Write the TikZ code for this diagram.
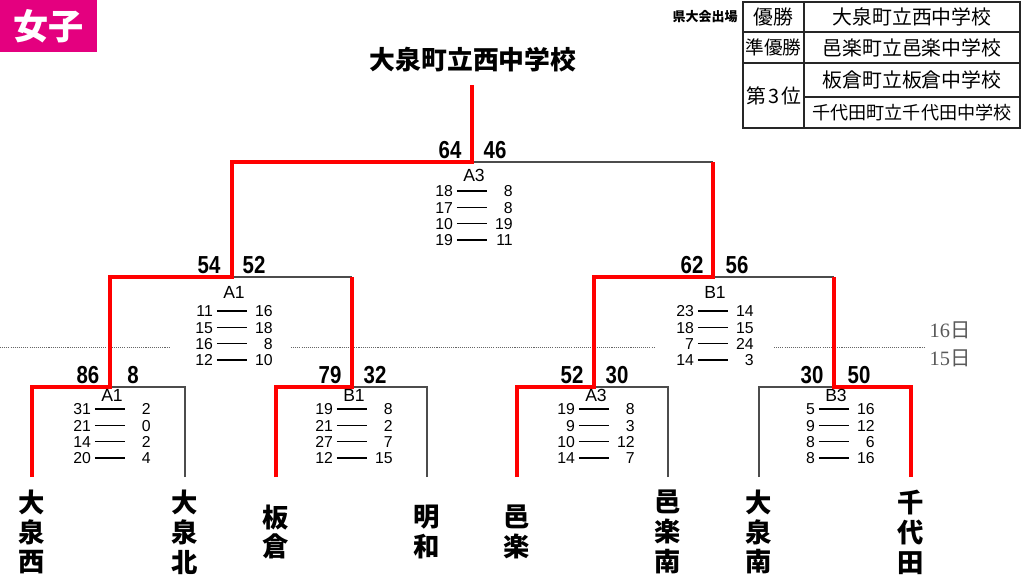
\documentclass[tikz,border=0pt]{standalone}
\usepackage{fontspec}
\usepackage{array}
\setmainfont{Liberation Sans}
\newfontfamily\cjk{Noto Sans CJK JP}
\newfontfamily\scorefont{Liberation Sans}[FakeStretch=0.83]
\newfontfamily\dayfont{Liberation Serif}
\usetikzlibrary{calc}
\definecolor{girlpink}{HTML}{E4007F}
\newcolumntype{R}{>{\raggedleft\arraybackslash}p{10pt}}
\newcommand\gamedash{\rule[0.33em]{17pt}{0.65pt}}
\newcommand\gamerows[1]{\begin{tabular}{@{}R@{\hspace{2.3pt}}c@{\hspace{4.8pt}}R@{}}#1\end{tabular}}

\begin{document}
\begin{tikzpicture}[x=0.02cm,y=-0.02cm]
		\tikzset{win/.style = {draw=red, line width=1.8pt}}
		\tikzset{lose/.style = {draw=black!70, line width=0.6pt}}
		\tikzset{daysep/.style = {draw=black!60, line width=0.5pt, dash pattern=on 0.6pt off 0.6pt}}
		\tikzset{cellline/.style = {draw=black!85, line width=0.6pt}}
		\tikzset{score/.style = {font=\scorefont\bfseries\fontsize{14}{14}\selectfont, inner sep=0pt}}
		\tikzset{pool/.style = {font=\fontsize{10}{10}\selectfont, inner sep=0pt}}
		\tikzset{games/.style = {font=\fontsize{9}{9.3}\selectfont, inner sep=0pt}}
		\tikzset{team/.style = {font=\cjk\bfseries\fontsize{15}{17}\selectfont, align=center, inner sep=0pt}}
		\tikzset{cell/.style = {font=\cjk\fontsize{11.3}{12}\selectfont, inner sep=0pt}}
		\tikzset{day/.style = {text=black!65, font=\fontsize{11.6}{12}\selectfont, inner sep=0pt}}

		\useasboundingbox (0,0) rectangle (1024,583);

		\node[fill=girlpink, text=white, font=\cjk\bfseries\fontsize{20}{20}\selectfont, minimum width=1.94cm, minimum height=1.04cm, anchor=north west, inner sep=0pt] (girls) at (0,0) {女子};
		\node[font=\cjk\bfseries\fontsize{14.7}{15}\selectfont, inner sep=0pt] (champ) at (473,60) {大泉町立西中学校};

		\coordinate (w) at (472,85);
		\coordinate (fn) at (472,162);
		\coordinate (s1) at (232,277);
		\coordinate (s2) at (713,277);
		\coordinate (q1) at (110,387);
		\coordinate (q2) at (352,387);
		\coordinate (q3) at (594,387);
		\coordinate (q4) at (834,387);
		\coordinate (f1) at (32,477);
		\coordinate (f2) at (185,477);
		\coordinate (f3) at (276,477);
		\coordinate (f4) at (427,477);
		\coordinate (f5) at (517,477);
		\coordinate (f6) at (668,477);
		\coordinate (f7) at (759,477);
		\coordinate (f8) at (911,477);

		\node[team] (t1) at (32,532) {大\\泉\\西};
		\node[team] (t2) at (185,532) {大\\泉\\北};
		\node[team] (t3) at (276,532) {板\\倉};
		\node[team] (t4) at (427,532) {明\\和};
		\node[team] (t5) at (517,532) {邑\\楽};
		\node[team] (t6) at (668,532) {邑\\楽\\南};
		\node[team] (t7) at (759,532) {大\\泉\\南};
		\node[team] (t8) at (911,532) {千\\代\\田};

		\draw[daysep] (0,347) -- (170,347);
		\draw[daysep] (291,347) -- (654,347);
		\draw[daysep] (774,347) -- (925,347);
		\node[day] (d16) at (950,330) {\dayfont 16\cjk 日};
		\node[day] (d15) at (950,358) {\dayfont 15\cjk 日};

		\draw[lose] (f2) |- (q1);
		\draw[lose] (f4) |- (q2);
		\draw[lose] (q2 |- s1) -- (s1);
		\draw[lose] (f6) |- (q3);
		\draw[lose] (f7) |- (q4);
		\draw[lose] (q4 |- s2) -- (s2);
		\draw[lose] (s2 |- fn) -- (fn);

		\draw[win] (f1) |- (q1) |- (s1) |- (fn) -- (w);
		\draw[win] (f3) |- (q2) -- (q2 |- s1);
		\draw[win] (f5) |- (q3) |- (s2) -- (s2 |- fn);
		\draw[win] (f8) |- (q4) -- (q4 |- s2);

		\node[score] (fnL) at ($(fn)+(-22,-12)$) {64};
		\node[score] (fnR) at ($(fn)+(23,-12)$) {46};
		\node[score] (s1L) at ($(s1)+(-23,-12)$) {54};
		\node[score] (s1R) at ($(s1)+(22,-12)$) {52};
		\node[score] (s2L) at ($(s2)+(-21,-12)$) {62};
		\node[score] (s2R) at ($(s2)+(24,-12)$) {56};
		\node[score] (q1L) at ($(q1)+(-22,-12)$) {86};
		\node[score] (q1R) at ($(q1)+(23,-12)$) {8};
		\node[score] (q2L) at ($(q2)+(-22,-12)$) {79};
		\node[score] (q2R) at ($(q2)+(23,-12)$) {32};
		\node[score] (q3L) at ($(q3)+(-22,-12)$) {52};
		\node[score] (q3R) at ($(q3)+(23,-12)$) {30};
		\node[score] (q4L) at ($(q4)+(-22,-12)$) {30};
		\node[score] (q4R) at ($(q4)+(25,-12)$) {50};

		\node[pool] (fnP) at (474,175) {A3};
		\node[games] (fnG) at (474,218) {\gamerows{18&\gamedash&8\\17&\gamedash&8\\10&\gamedash&19\\19&\gamedash&11}};
		\node[pool] (s1P) at (234,292) {A1};
		\node[games] (s1G) at (234,338) {\gamerows{11&\gamedash&16\\15&\gamedash&18\\16&\gamedash&8\\12&\gamedash&10}};
		\node[pool] (s2P) at (715,292) {B1};
		\node[games] (s2G) at (715,338) {\gamerows{23&\gamedash&14\\18&\gamedash&15\\7&\gamedash&24\\14&\gamedash&3}};
		\node[pool] (q1P) at (112,395) {A1};
		\node[games] (q1G) at (112,436) {\gamerows{31&\gamedash&2\\21&\gamedash&0\\14&\gamedash&2\\20&\gamedash&4}};
		\node[pool] (q2P) at (354,395) {B1};
		\node[games] (q2G) at (354,436) {\gamerows{19&\gamedash&8\\21&\gamedash&2\\27&\gamedash&7\\12&\gamedash&15}};
		\node[pool] (q3P) at (596,395) {A3};
		\node[games] (q3G) at (596,436) {\gamerows{19&\gamedash&8\\9&\gamedash&3\\10&\gamedash&12\\14&\gamedash&7}};
		\node[pool] (q4P) at (836,395) {B3};
		\node[games] (q4G) at (836,436) {\gamerows{5&\gamedash&16\\9&\gamedash&12\\8&\gamedash&6\\8&\gamedash&16}};

		% result table
		\node[font=\cjk\bfseries\fontsize{7.4}{8}\selectfont, inner sep=0pt] (kentai) at (705,17) {県大会出場};
		\draw[cellline] (743,2) rectangle (1020,128);
		\draw[cellline] (743,32) -- (1020,32);
		\draw[cellline] (743,63) -- (1020,63);
		\draw[cellline] (804,97) -- (1020,97);
		\draw[cellline] (804,2) -- (804,128);
		\node[cell] (r1a) at (773.5,17) {優勝};
		\node[cell] (r1b) at (912,17) {大泉町立西中学校};
		\node[cell, font=\cjk\fontsize{10.6}{11}\selectfont] (r2a) at (773.5,47.5) {準優勝};
		\node[cell] (r2b) at (912,47.5) {邑楽町立邑楽中学校};
		\node[cell] (r3a) at (774,96) {第\hspace{1.5pt}3\hspace{1pt}位};
		\node[cell] (r3b) at (912,80) {板倉町立板倉中学校};
		\node[cell, font=\cjk\fontsize{10.3}{11}\selectfont] (r4b) at (912,112.5) {千代田町立千代田中学校};

	\end{tikzpicture}
\end{document}
